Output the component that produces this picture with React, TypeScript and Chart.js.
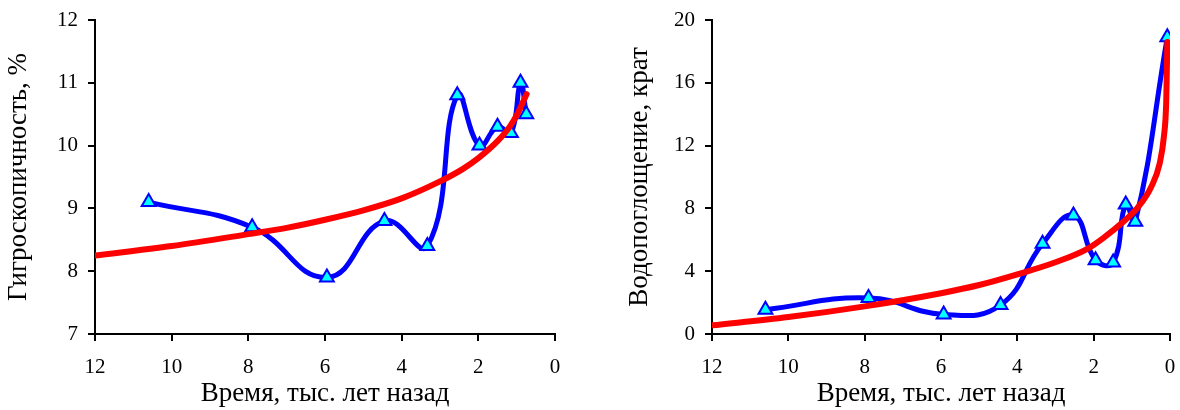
import React, { useEffect, useRef } from "react";
import { Chart, registerables } from "chart.js";

Chart.register(...registerables);

// ---- data ----
const xTicks = [12, 10, 8, 6, 4, 2, 0];
const leftYTicks = [7, 8, 9, 10, 11, 12];
const rightYTicks = [0, 4, 8, 12, 16, 20];

const xTitle = "Время, тыс. лет назад";
const leftYTitle = "Гигроскопичность, %";
const rightYTitle = "Водопоглощение, крат";

// Left chart: hygroscopicity
const leftAge = [10.6, 7.9, 5.95, 4.45, 3.33, 2.55, 1.97, 1.5, 1.15, 0.9, 0.75];
const leftHygro = [9.1, 8.7, 7.9, 8.8, 8.4, 10.8, 10.0, 10.3, 10.2, 11.0, 10.5];
const leftTrendAge = [12, 10, 8, 7, 6, 5, 4, 3, 2.4, 2, 1.5, 1.17, 0.96, 0.74];
const leftTrend = [8.25, 8.4, 8.59, 8.69, 8.82, 8.97, 9.16, 9.43, 9.63, 9.8, 10.07, 10.31, 10.53, 10.82];

// Right chart: water absorption
const rightAge = [10.6, 7.9, 5.93, 4.44, 3.34, 2.53, 1.95, 1.49, 1.16, 0.91, 0.07];
const rightWater = [1.55, 2.3, 1.25, 1.85, 5.75, 7.55, 4.7, 4.55, 8.25, 7.15, 18.9];
const rightTrendAge = [12, 10, 8, 6, 5, 4, 3, 2.14, 1.7, 1.27, 0.83, 0.49, 0.27, 0.16, 0.1, 0.085, 0.07];
const rightTrend = [0.55, 1.08, 1.76, 2.6, 3.12, 3.8, 4.57, 5.46, 6.2, 7.05, 8.1, 9.38, 10.87, 12.57, 14.7, 16.5, 18.6];

const FONT = "'Liberation Serif', 'Times New Roman', serif";

function pts(xs: number[], ys: number[]) {
  return xs.map((x, i) => ({ x, y: ys[i] }));
}

function makeConfig(opts: {
  age: number[];
  vals: number[];
  trendAge: number[];
  trend: number[];
  yTicks: number[];
  yTitle: string;
  padLeft: number;
  padRight: number;
  yWidth: number;
}): any {
  const yMin = opts.yTicks[0];
  const yMax = opts.yTicks[opts.yTicks.length - 1];
  return {
    type: "line",
    data: {
      datasets: [
        {
          data: pts(opts.trendAge, opts.trend),
          borderColor: "#FF0000",
          borderWidth: 6,
          pointRadius: 0,
          fill: false,
          cubicInterpolationMode: "monotone",
          borderCapStyle: "round",
        },
        {
          data: pts(opts.age, opts.vals),
          borderColor: "#0000FF",
          borderWidth: 5,
          tension: 0.45,
          fill: false,
          pointStyle: "triangle",
          pointRadius: 8,
          pointBackgroundColor: "#00FFFF",
          pointBorderColor: "#0000FF",
          pointBorderWidth: 2,
        },
      ],
    },
    options: {
      responsive: false,
      animation: false,
      devicePixelRatio: 1,
      events: [],
      layout: { padding: { left: opts.padLeft, right: opts.padRight, top: 20, bottom: 0 } },
      plugins: { legend: { display: false }, tooltip: { enabled: false } },
      scales: {
        x: {
          type: "linear",
          min: 0,
          max: 12,
          reverse: true,
          afterBuildTicks: (s: any) => {
            s.ticks = xTicks.map((v) => ({ value: v }));
          },
          afterFit: (s: any) => {
            s.height = 76;
            s.paddingLeft = 0;
            s.paddingRight = 0;
          },
          grid: { drawOnChartArea: false, drawTicks: true, tickLength: 7, color: "#000", lineWidth: 2 },
          border: { display: true, color: "#000", width: 2 },
          ticks: { color: "#000", font: { family: FONT, size: 21 }, padding: 14, maxRotation: 0, autoSkip: false },
          title: {
            display: true,
            text: xTitle,
            color: "#000",
            font: { family: FONT, size: 27 },
            padding: { top: 0, bottom: 0 },
          },
        },
        y: {
          type: "linear",
          min: yMin,
          max: yMax,
          afterBuildTicks: (s: any) => {
            s.ticks = opts.yTicks.map((v) => ({ value: v }));
          },
          afterFit: (s: any) => {
            s.width = opts.yWidth;
            s.paddingTop = 0;
            s.paddingBottom = 0;
          },
          grid: { drawOnChartArea: false, drawTicks: true, tickLength: 7, color: "#000", lineWidth: 2 },
          border: { display: true, color: "#000", width: 2 },
          ticks: { color: "#000", font: { family: FONT, size: 21 }, padding: 10, autoSkip: false },
          title: {
            display: true,
            text: opts.yTitle,
            color: "#000",
            font: { family: FONT, size: 27 },
            padding: { top: 3, bottom: 0 },
          },
        },
      },
    },
  };
}

function ChartBox({ config }: { config: any }) {
  const ref = useRef<HTMLCanvasElement | null>(null);
  useEffect(() => {
    if (!ref.current) return;
    const chart = new Chart(ref.current, config);
    return () => chart.destroy();
  }, []);
  return (
    <canvas
      ref={ref}
      width={590}
      height={410}
      style={{ display: "block", width: 590, height: 410 }}
    />
  );
}

export default function App() {
  const left = makeConfig({
    age: leftAge,
    vals: leftHygro,
    trendAge: leftTrendAge,
    trend: leftTrend,
    yTicks: leftYTicks,
    yTitle: leftYTitle,
    padLeft: 0,
    padRight: 35,
    yWidth: 95,
  });
  const right = makeConfig({
    age: rightAge,
    vals: rightWater,
    trendAge: rightTrendAge,
    trend: rightTrend,
    yTicks: rightYTicks,
    yTitle: rightYTitle,
    padLeft: 30.5,
    padRight: 8,
    yWidth: 91.5,
  });
  return (
    <div
      style={{
        position: "fixed",
        left: 0,
        top: 0,
        width: 1180,
        height: 410,
        display: "flex",
        background: "#fff",
      }}
    >
      <ChartBox config={left} />
      <ChartBox config={right} />
    </div>
  );
}
